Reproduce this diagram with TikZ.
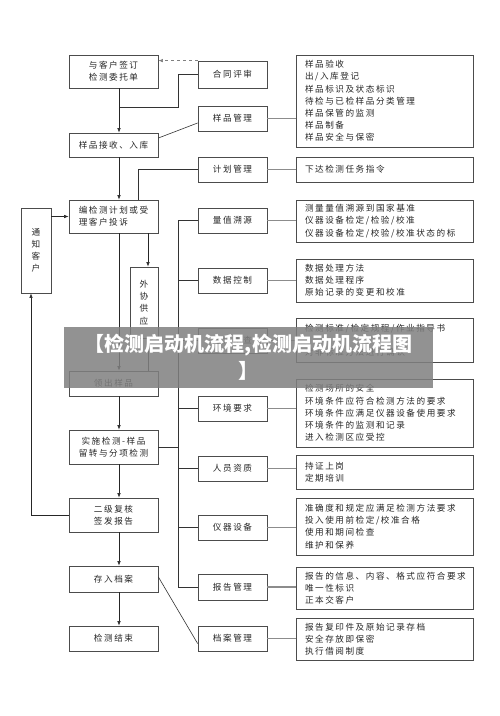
\documentclass[tikz,border=0pt]{standalone}
\usepackage{fontspec}
\newfontfamily\cjk[LetterSpace=18]{Noto Sans CJK SC}
\newfontfamily\cjkban{Noto Sans CJK SC}
\usetikzlibrary{arrows.meta}
\tikzset{
  box/.style={draw=black!70, line width=0.8pt, fill=white, inner sep=1pt, align=center,
    font=\cjk\fontsize{8.6}{12.2}\selectfont, text=black!85},
  lbox/.style={box, minimum width=89pt},
  mbox/.style={box, minimum width=69pt, minimum height=25pt},
  rbox/.style={box, text width=159pt, align=left, inner xsep=9pt, inner ysep=0pt},
  arr/.style={draw=black!85, line width=0.6pt, -{Latex[length=4.5pt,width=3.5pt]}},
  ln/.style={draw=black!80, line width=0.6pt},
  side/.style={draw=black!45, line width=1.1pt},
  banner/.style={fill=black!50, fill opacity=0.85, text opacity=1, text=white,
    minimum width=369pt, minimum height=61pt, align=center, inner sep=0pt,
    font=\cjkban\bfseries\fontsize{20}{27}\selectfont},
}
\begin{document}
\begin{tikzpicture}[x=1pt,y=-1pt]
\fill[white] (0,0) rectangle (500,716);
\useasboundingbox (0,0) rectangle (500,716);

% left column
\node[lbox, minimum height=33pt] (A) at (113.5,71.5) {与客户签订\\检测委托单};
\node[lbox, minimum height=24pt] (B) at (113.5,145) {样品接收、入库};
\node[lbox, minimum height=33pt, align=left] (C) at (113.5,216.5) {编检测计划或受\\理客户投诉};
\node[lbox, minimum height=25pt] (D) at (113.5,383.5) {领出样品};
\node[lbox, minimum height=34pt] (E) at (113.5,447) {实施检测-样品\\留转与分项检测};
\node[lbox, minimum height=34pt] (F) at (113.5,515) {二级复核\\签发报告};
\node[lbox, minimum height=26pt] (G) at (113.5,579) {存入档案};
\node[lbox, minimum height=25pt] (H) at (113.5,638.5) {检测结束};
\node[box, minimum width=30pt, minimum height=85pt] (N) at (36,250.5) {通\\知\\客\\户};
\node[box, minimum width=28pt, minimum height=71pt] (X) at (144,302.5) {外\\协\\供\\应};

% middle column
\node[mbox, minimum height=27pt] (M1) at (232.5,74.5) {合同评审};
\node[mbox] (M2) at (232.5,118.5) {样品管理};
\node[mbox] (M3) at (232.5,169.5) {计划管理};
\node[mbox] (M4) at (232.5,220.5) {量值溯源};
\node[mbox] (M5) at (232.5,280.5) {数据控制};
\node[mbox] (M6) at (232.5,340.5) {方法审查};
\node[mbox] (M7) at (232.5,408.5) {环境要求};
\node[mbox] (M8) at (232.5,468.5) {人员资质};
\node[mbox] (M9) at (232.5,527.5) {仪器设备};
\node[mbox, minimum height=26pt] (M10) at (232.5,587) {报告管理};
\node[mbox] (M11) at (232.5,638.5) {档案管理};

% right column
\node[rbox, minimum height=92pt] (R1) at (384.5,101) {样品验收\\出/入库登记\\样品标识及状态标识\\待检与已检样品分类管理\\样品保管的监测\\样品制备\\样品安全与保密};
\node[rbox, minimum height=25pt] (R2) at (384.5,169.5) {下达检测任务指令};
\node[rbox, minimum height=42pt] (R3) at (384.5,221) {测量量值溯源到国家基准\\仪器设备检定/检验/校准\\仪器设备检定/校验/校准状态的标};
\node[rbox, minimum height=43pt] (R4) at (384.5,280.5) {数据处理方法\\数据处理程序\\原始记录的变更和校准};
\node[rbox, minimum height=44pt] (R5) at (384.5,340) {检测标准/检定规程/作业指导书\\\mbox{}\\对非标准方法进行确认};
\node[rbox, minimum height=68pt] (R6) at (384.5,413) {检测场所的安全\\环境条件应符合检测方法的要求\\环境条件应满足仪器设备使用要求\\环境条件的监测和记录\\进入检测区应受控};
\node[rbox, minimum height=34pt] (R7) at (384.5,472) {持证上岗\\定期培训};
\node[rbox, minimum height=57pt] (R8) at (384.5,526.5) {准确度和规定应满足检测方法要求\\投入使用前检定/校准合格\\使用和期间检查\\维护和保养};
\node[rbox, minimum height=42pt] (R9) at (384.5,588) {报告的信息、内容、格式应符合要求\\唯一性标识\\正本交客户};
\node[rbox, minimum height=42pt] (R10) at (384.5,639) {报告复印件及原始记录存档\\安全存放即保密\\执行借阅制度};

% helper coordinates
\coordinate (c0) at (31,0);
\coordinate (c1) at (119,0);
\coordinate (c2) at (148,0);
\coordinate (c3) at (138,0);
\coordinate (sp) at (178,0);
\coordinate (j1) at (119,107);

% connectors
\draw[arr, dashed, draw=black!50] (M1.north west) -- (M1.north west -| A.east);
\draw[ln] (M1.west) -| (sp |- j1) -- (j1);
\draw[arr] (A.south -| c1) -- (B.north -| c1);
\draw[ln] ([yshift=7pt]B.east) -- ([yshift=-4.5pt]M2.west);
\draw[arr] (B.south -| c1) -- (C.north -| c1);
\draw[ln] (M3.west) -| (C.north -| c3);
\draw[arr] (C.west -| N.east) -- (C.west);
\draw[ln] (M4.west) -| (sp |- M10.west) -- (M10.west);
\foreach \m in {M5,M6,M7,M8,M9} { \draw[ln] (sp |- \m.west) -- (\m.west); }
\draw[ln] (E.east) -- (sp |- E.east);
\draw[arr] (C.south -| c2) -- (X.north -| c2);
\draw[ln] (X.south -| c2) -- (D.north -| c2);
\draw[arr] (C.south -| c1) -- (D.north -| c1);
\draw[arr] (D.south -| c1) -- (E.north -| c1);
\draw[arr] (E.south -| c1) -- (F.north -| c1);
\draw[arr] (F.south -| c1) -- (G.north -| c1);
\draw[arr] (G.south -| c1) -- (H.north -| c1);
\draw[arr] (F.west) -| (N.south -| c0);
\draw[ln] ([yshift=2pt]G.east) -- ([yshift=-5pt]M11.west);

\draw[side] (M2.east) -- (M2.east -| R1.west);
\draw[side] (M3.east) -- (M3.east -| R2.west);
\draw[side] (M4.east) -- (M4.east -| R3.west);
\draw[side] (M5.east) -- (M5.east -| R4.west);
\draw[side] (M6.east) -- (M6.east -| R5.west);
\draw[side] (M7.east) -- (M7.east -| R6.west);
\draw[side] (M8.east) -- (M8.east -| R7.west);
\draw[side] (M9.east) -- (M9.east -| R8.west);
\draw[side] (M10.east) -- (M10.east -| R9.west);
\draw[side] (M11.east) -- (M11.east -| R10.west);

% banner overlay
\node[banner] (ban) at (248.5,357.5) {【检测启动机流程,检测启动机流程图\\】};
\end{tikzpicture}
\end{document}
